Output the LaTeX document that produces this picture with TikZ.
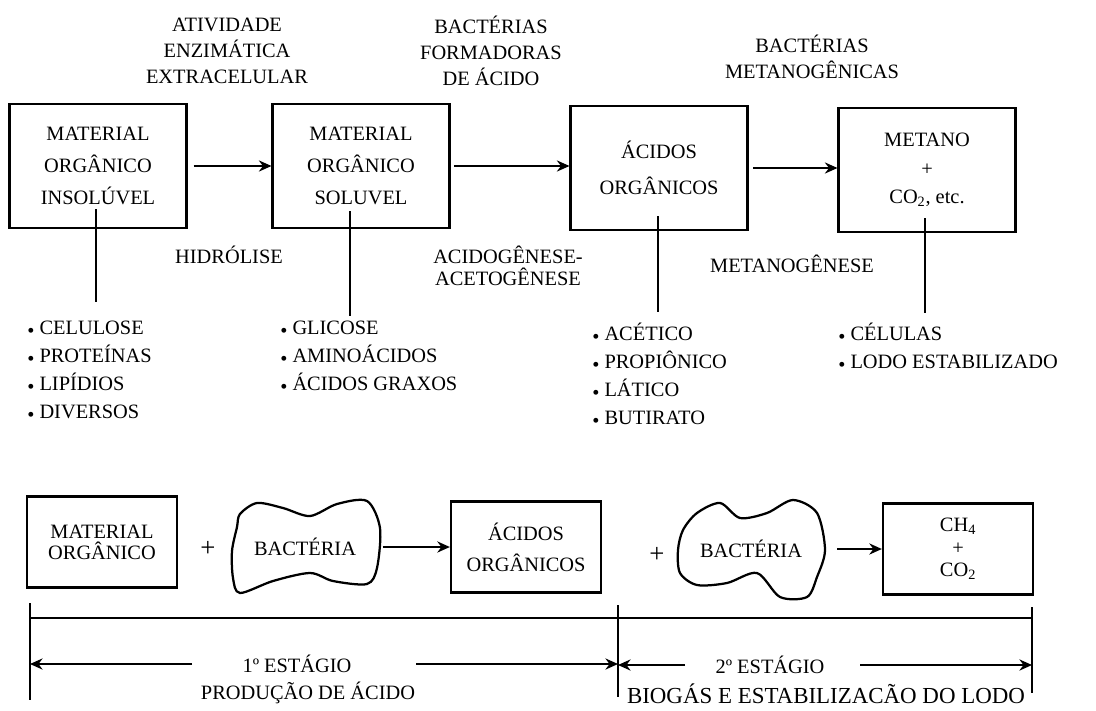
\documentclass[tikz,border=0pt]{standalone}
\usepackage{fontspec}
\setmainfont{Liberation Serif}
\usetikzlibrary{arrows.meta,positioning}
\newcommand\itm{\raisebox{-.15em}{\textbullet}\ }
\newcommand\fsz[1]{\fontsize{14.5}{#1}\selectfont}

\begin{document}
\begin{tikzpicture}[x=.025cm,y=-.025cm,font=\fsz{18.6pt},
box/.style={draw,line width=1.6pt,align=center,minimum width=4.42cm,minimum height=3.1cm,inner sep=2pt},
sbox/.style={draw,line width=1.6pt,align=center,minimum width=3.75cm,minimum height=2.28cm,inner sep=2pt},
bac/.style={minimum width=3.7cm,minimum height=2.3cm,inner sep=0pt},
blob/.style={line width=1.6pt,line join=round},
plus/.style={font=\fontsize{19}{20}\selectfont},
arr/.style={-{Stealth[length=9pt,width=8pt,inset=3pt]},line width=1.1pt},
stem/.style={line width=1.1pt},
item/.style={anchor=base west,inner sep=0pt}]
\path[use as bounding box,fill=white](0,0)rectangle(1096,710);

% upper chain
\node[align=center] (t1) at(227,51){ATIVIDADE\\ENZIMÁTICA\\EXTRACELULAR};
\node[align=center] (t2) at(491,51){BACTÉRIAS\\FORMADORAS\\DE ÁCIDO};
\node[align=center] (t3) at(812,57){BACTÉRIAS\\METANOGÊNICAS};
\node[box,font=\fsz{22.8pt}] (b1) at(98,166){MATERIAL\\ORGÂNICO\\INSOLÚVEL};
\node[box,font=\fsz{22.8pt}] (b2) at(361,166){MATERIAL\\ORGÂNICO\\SOLUVEL};
\node[box,font=\fsz{25.6pt}] (b3) at(659,168){ÁCIDOS\\ORGÂNICOS};
\node[box,font=\fsz{20.3pt}] (b4) at(927,170){METANO\\+\\CO\textsubscript{2}, etc.};
\draw[arr,shorten <=.15cm](b1.east)--(b1.east -| b2.west);
\draw[arr,shorten <=.08cm](b2.east)--(b2.east -| b3.west);
\draw[arr,shorten <=.12cm](b3.east)--(b3.east -| b4.west);
\node (h1) at(229,255){HIDRÓLISE};
\node[align=center,font=\fsz{15.8pt}] (h2) at(508,266){ACIDOGÊNESE-\\ACETOGÊNESE};
\node (h3) at(792,264){METANOGÊNESE};

% stems and lists
\coordinate (s1) at(96,302);
\coordinate (s2) at(350,316);
\coordinate (s3) at(658,312);
\coordinate (s4) at(925,313);
\foreach \b/\s/\h in {b1/s1/20,b2/s2/18,b3/s3/15,b4/s4/15}
  \draw[stem](\s |- \b.south)++(0,-\h)--(\s);
\foreach \t [count=\i from 0] in {CELULOSE,PROTEÍNAS,LIPÍDIOS,DIVERSOS}
  \node[item] (l1-\i) at(27,334+28.3*\i){\itm\t};
\foreach \t [count=\i from 0] in {GLICOSE,AMINOÁCIDOS,ÁCIDOS GRAXOS}
  \node[item] (l2-\i) at(280,334+28.3*\i){\itm\t};
\foreach \t [count=\i from 0] in {ACÉTICO,PROPIÔNICO,LÁTICO,BUTIRATO}
  \node[item] (l3-\i) at(592,340+28.3*\i){\itm\t};
\foreach \t [count=\i from 0] in {CÉLULAS,LODO ESTABILIZADO}
  \node[item] (l4-\i) at(838,340+28.3*\i){\itm\t};

% lower chain
\node[sbox,font=\fsz{15pt}] (m1) at(102,542){MATERIAL\\ORGÂNICO};
\node[plus] (p1) at(208,549){+};
\node[bac] (bac1) at(305,547){BACTÉRIA};
\draw[blob,shift={(bac1.center)}] plot[smooth cycle] coordinates{(-65,-33)(-48,-44)(-22,-39)(5,-31)(32,-43)(62,-46)(75,-19)(72,21)(62,37)(28,34)(5,26)(-32,34)(-65,46)(-72,31)(-73,4)(-68,-20)};
\node[sbox,font=\fsz{22pt}] (m2) at(526,547){ÁCIDOS\\ORGÂNICOS};
\node[plus] (p2) at(657,555){+};
\node[bac] (bac2) at(751,549){BACTÉRIA};
\draw[blob,shift={(bac2.center)}] plot[smooth cycle] coordinates{(-68,-19)(-54,-36)(-31,-46)(-11,-31)(16,-36)(42,-49)(66,-36)(74,1)(66,28)(56,48)(29,48)(6,24)(-24,34)(-54,36)(-71,24)(-73,1)};
\node[sbox,font=\fsz{16pt}] (m3) at(958,549){CH\textsubscript{4}\\+\\CO\textsubscript{2}};
\draw[arr,shorten <=.08cm](bac1.east)--(bac1.east -| m2.west);
\draw[arr,shorten <=.3cm](bac2.east)--(bac2.east -| m3.west);

% stages
\coordinate (v1) at(30,603);
\coordinate (v2) at(618,605);
\coordinate (v3) at(1032,607);
\draw[stem](v1)--++(0,97);
\draw[stem](v2)--++(0,92);
\draw[stem](v3)--++(0,86);
\draw[stem](v1 |- 0,618)--(v3 |- 0,618);
\node (e1) at(297,664){1º ESTÁGIO};
\node (e2) at(770,665){2º ESTÁGIO};
\node (f1) at(308,693){PRODUÇÃO DE ÁCIDO};
\node[font=\fontsize{16.3}{18}\selectfont] (f2) at(826,694){BIOGÁS E ESTABILIZACÃO DO LODO};
\draw[arr,shorten <=1.14cm](e1.west)--(v1 |- e1);
\draw[arr,shorten <=1.5cm](e1.east)--(v2 |- e1);
\draw[arr,shorten <=.64cm](e2.west)--(v2 |- e2);
\draw[arr,shorten <=.77cm](e2.east)--(v3 |- e2);
\end{tikzpicture}
\end{document}
